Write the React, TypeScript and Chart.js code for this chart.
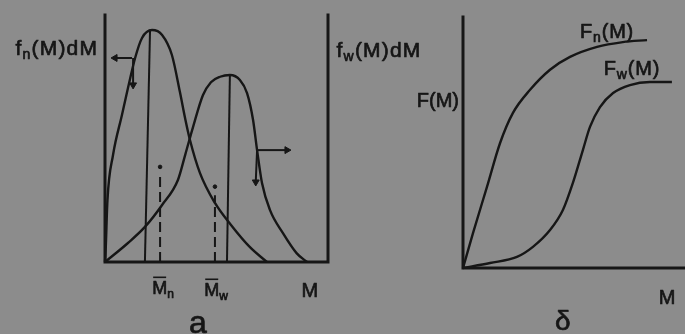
import React, { useEffect, useRef } from "react";
import { Chart, registerables } from "chart.js";
Chart.register(...registerables);

// ---- Panel a: distribution curves ----
const fnM = [0, 0.3, 1.1, 3.6, 7.6, 10.3, 13.5, 16.6, 21.1, 25.6, 30, 33.6, 35.9, 38.1, 42.6, 49.3, 56.5, 65, 72.6];
const fnVal = [0, 5, 25, 43.3, 59.5, 70.4, 82.6, 90.7, 93.9, 91.9, 83.8, 68.8, 58.3, 49.4, 36, 23.9, 15, 6, 0];
const fwM = [0, 10.3, 17.9, 25.6, 32.7, 36, 39.5, 43.9, 47.5, 51.6, 56, 60.5, 63.7, 66.4, 68.2, 70.4, 74, 79.8, 86, 90.6];
const fwVal = [0, 7.7, 14.2, 23.1, 33.2, 43.5, 54.7, 67.5, 72.8, 75, 75.7, 73.7, 68.4, 57.5, 45.3, 32, 21, 11.7, 3.5, 0];
const fnPeakLineM = [17.9, 20.2];
const fnPeakLineVal = [0, 94];
const fwPeakLineM = [54.7, 56];
const fwPeakLineVal = [0, 75.7];
const meanMn = 24.7;
const meanMnTop = 36;
const meanMw = 49.3;
const meanMwTop = 27;
const meanDotVal = [38.5, 30.5];
// arrows: [from, to]
const arrowLeftH = { m: [12.1, 4.5], v: [82.6, 82.6] };
const arrowLeftV = { m: [12.6, 12.6], v: [82.6, 71.7] };
const arrowRightH = { m: [68.2, 81.6], v: [45.3, 45.3] };
const arrowRightV = { m: [68.2, 67.6], v: [45.3, 32.4] };

// ---- Panel б: cumulative curves ----
const FnM = [0, 4.5, 10.8, 16.7, 22.5, 30.2, 39.2, 48.2, 60.4, 72, 82.9];
const FnVal = [0, 13.9, 32.3, 49.8, 61.8, 71, 79, 84.1, 88.1, 90, 90.8];
const FwM = [0, 12.2, 24.3, 31.5, 39.2, 45, 49.5, 54, 57.2, 61.7, 67.6, 75.2, 84.2, 94.1];
const FwVal = [0, 2, 4.4, 8.4, 15.1, 23.1, 33.9, 47, 56.2, 64.1, 69.7, 72.9, 74.1, 74.1];

const INK = "#161616";
const BG = "#8c8c8c";
const FONT = '"Liberation Sans", "DejaVu Sans", sans-serif';

type Part = { t: string; sub?: boolean; bar?: boolean };
type Label = { parts: Part[]; x: number; y: number; size: number; spacing?: number };

const leftLabels: Label[] = [
  { parts: [{ t: "f" }, { t: "n", sub: true }, { t: "(M)dM" }], x: -21.6, y: 87, size: 21, spacing: 1.2 },
  { parts: [{ t: "f" }, { t: "w", sub: true }, { t: "(M)dM" }], x: 122.9, y: 86, size: 21, spacing: 1.2 },
  { parts: [{ t: "M", bar: true }, { t: "n", sub: true }], x: 26, y: -10.5, size: 18 },
  { parts: [{ t: "M", bar: true }, { t: "w", sub: true }], x: 49.8, y: -11.3, size: 18 },
  { parts: [{ t: "M" }], x: 91.9, y: -11.3, size: 20 },
  { parts: [{ t: "a" }], x: 41.7, y: -23.9, size: 32 },
];
const rightLabels: Label[] = [
  { parts: [{ t: "F(M)" }], x: -11.3, y: 67, size: 20 },
  { parts: [{ t: "F" }, { t: "n", sub: true }, { t: "(M)" }], x: 64.9, y: 94.4, size: 20, spacing: 0.8 },
  { parts: [{ t: "F" }, { t: "w", sub: true }, { t: "(M)" }], x: 76.1, y: 79.7, size: 20, spacing: 0.8 },
  { parts: [{ t: "M" }], x: 91.9, y: -11.6, size: 20 },
  { parts: [{ t: "δ" }], x: 45, y: -20.7, size: 28 },
];

const zip = (a: number[], b: number[]) => a.map((x, i) => ({ x, y: b[i] }));

function makeTextPlugin(id: string, items: Label[]) {
  return {
    id,
    afterDatasetsDraw(chart: any) {
      const { ctx } = chart;
      const xs = chart.scales.x;
      const ys = chart.scales.y;
      ctx.save();
      ctx.fillStyle = INK;
      ctx.strokeStyle = INK;
      ctx.textBaseline = "alphabetic";
      ctx.lineJoin = "round";
      for (const it of items) {
        const sp = it.spacing || 0;
        const main = `${it.size}px ${FONT}`;
        const subF = `${Math.round(it.size * 0.68)}px ${FONT}`;
        const widths: number[] = [];
        let w = 0;
        for (const p of it.parts) {
          ctx.font = p.sub ? subF : main;
          const pw = ctx.measureText(p.t).width + sp * p.t.length;
          widths.push(pw);
          w += pw;
        }
        let cx = xs.getPixelForValue(it.x) - w / 2;
        const by = ys.getPixelForValue(it.y) + it.size * 0.36;
        it.parts.forEach((p, i) => {
          ctx.font = p.sub ? subF : main;
          let lx = cx;
          for (const ch of p.t) {
            const yy = p.sub ? by + it.size * 0.2 : by;
            ctx.lineWidth = 0.7;
            ctx.fillText(ch, lx, yy);
            ctx.strokeText(ch, lx, yy);
            lx += ctx.measureText(ch).width + sp;
          }
          if (p.bar) {
            ctx.lineWidth = 1.6;
            ctx.beginPath();
            ctx.moveTo(cx + 1, by - it.size * 0.95);
            ctx.lineTo(cx + widths[i] - 1, by - it.size * 0.95);
            ctx.stroke();
          }
          cx += widths[i];
        });
      }
      ctx.restore();
    },
  };
}

function makeFramePlugin(id: string, sides: { left?: boolean; bottom?: boolean; right?: boolean }) {
  return {
    id,
    beforeDatasetsDraw(chart: any) {
      const { ctx } = chart;
      const xs = chart.scales.x;
      const ys = chart.scales.y;
      const x0 = xs.getPixelForValue(0);
      const x1 = xs.getPixelForValue(100);
      const y0 = ys.getPixelForValue(0);
      const y1 = ys.getPixelForValue(100);
      ctx.save();
      ctx.strokeStyle = INK;
      ctx.lineWidth = 3;
      ctx.lineCap = "square";
      ctx.beginPath();
      if (sides.left) { ctx.moveTo(x0, y1); ctx.lineTo(x0, y0); }
      if (sides.bottom) { ctx.moveTo(x0, y0); ctx.lineTo(x1, y0); }
      if (sides.right) { ctx.moveTo(x1, y0); ctx.lineTo(x1, y1); }
      ctx.stroke();
      ctx.restore();
    },
  };
}

const curve = (data: any[]) => ({
  data,
  showLine: true,
  borderColor: INK,
  borderWidth: 2.4,
  pointRadius: 0,
  cubicInterpolationMode: "monotone" as const,
  clip: false as const,
});
const straight = (data: any[], dash: number[] = []) => ({
  data,
  showLine: true,
  borderColor: INK,
  borderWidth: 2,
  borderDash: dash,
  pointRadius: 0,
  clip: false as const,
});
const arrow = (a: { m: number[]; v: number[] }, rot: number) => ({
  data: zip(a.m, a.v),
  showLine: true,
  borderColor: INK,
  borderWidth: 2,
  pointRadius: [0, 4],
  pointStyle: "triangle",
  pointRotation: [0, rot],
  pointBackgroundColor: INK,
  pointBorderColor: INK,
  pointBorderWidth: 1,
  clip: false as const,
});

function baseOptions(padding: any) {
  return {
    animation: false as const,
    responsive: false,
    layout: { padding },
    plugins: { legend: { display: false }, tooltip: { enabled: false } },
    scales: {
      x: { type: "linear" as const, min: 0, max: 100, display: false },
      y: { type: "linear" as const, min: 0, max: 100, display: false },
    },
  };
}

export default function App() {
  const leftRef = useRef<HTMLCanvasElement>(null);
  const rightRef = useRef<HTMLCanvasElement>(null);

  useEffect(() => {
    const left = new Chart(leftRef.current!, {
      type: "scatter",
      data: {
        datasets: [
          curve(zip(fnM, fnVal)),
          curve(zip(fwM, fwVal)),
          straight(zip(fnPeakLineM, fnPeakLineVal)),
          straight(zip(fwPeakLineM, fwPeakLineVal)),
          straight(zip([meanMn, meanMn], [0, meanMnTop]), [10, 5]),
          straight(zip([meanMw, meanMw], [0, meanMwTop]), [10, 5]),
          {
            data: zip([meanMn, meanMw], meanDotVal),
            showLine: false,
            pointRadius: 1.8,
            pointBackgroundColor: INK,
            pointBorderColor: INK,
          },
          arrow(arrowLeftH, 270),
          arrow(arrowLeftV, 180),
          arrow(arrowRightH, 90),
          arrow(arrowRightV, 180),
        ] as any,
      },
      options: baseOptions({ left: 105, right: 122, top: 15, bottom: 72 }) as any,
      plugins: [
        makeFramePlugin("frameA", { left: true, bottom: true, right: true }),
        makeTextPlugin("textA", leftLabels),
      ],
    });
    const right = new Chart(rightRef.current!, {
      type: "scatter",
      data: {
        datasets: [curve(zip(FnM, FnVal)), curve(zip(FwM, FwVal))] as any,
      },
      options: baseOptions({ left: 118, right: 0, top: 17, bottom: 66 }) as any,
      plugins: [
        makeFramePlugin("frameB", { left: true, bottom: true }),
        makeTextPlugin("textB", rightLabels),
      ],
    });
    return () => {
      left.destroy();
      right.destroy();
    };
  }, []);

  return (
    <div
      style={{
        position: "fixed",
        left: 0,
        top: 0,
        width: 685,
        height: 334,
        background: BG,
        overflow: "hidden",
      }}
    >
      <canvas ref={leftRef} width={450} height={334} style={{ position: "absolute", left: 0, top: 0 }} />
      <canvas ref={rightRef} width={340} height={334} style={{ position: "absolute", left: 345, top: 0 }} />
    </div>
  );
}
